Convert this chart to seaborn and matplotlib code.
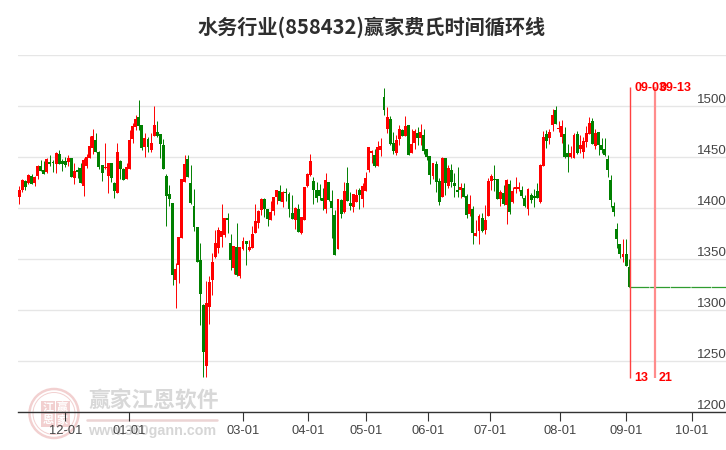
"""水务行业 K-line chart with Fibonacci time-cycle markers."""

import matplotlib
matplotlib.use("Agg")
import matplotlib.pyplot as plt
import numpy as np
import pandas as pd
import seaborn as sns
from matplotlib.patches import Circle, Rectangle

# prices, one entry per trading day
opens = [
    1411, 1418, 1426.5, 1424.5, 1431.7, 1425, 1432, 1441, 1437.3, 1436,
    1445, 1445, 1443.8, 1453.3, 1446, 1446.8, 1445.8, 1449, 1430, 1437.6,
    1439.2, 1422.2, 1441.5, 1449.7, 1458.9, 1466.7, 1455.3, 1442.2, 1439.2, 1432,
    1444.1, 1424.5, 1415.4, 1446.1, 1438.2, 1429.1, 1438.9, 1468.3, 1480, 1489.3,
    1481.4, 1460.5, 1467.7, 1457.2, 1471.3, 1474.6, 1472.6, 1461.8, 1431.4, 1413.7,
    1404.9, 1329.7, 1343.8, 1371.2, 1426.2, 1448.4, 1424.5, 1402, 1381.4, 1349.4,
    1305.2, 1244.7, 1302.6, 1329.1, 1352.6, 1360.8, 1372.2, 1373.8, 1390.2, 1365.7,
    1341.2, 1361.7, 1333.6, 1359.8, 1367.6, 1359.1, 1361.4, 1376.1, 1385.6, 1398.4,
    1408.8, 1399, 1388.9, 1397.4, 1410.8, 1417, 1406.2, 1416, 1413.7, 1395.1,
    1388.9, 1399.3, 1375.2, 1388.9, 1421.9, 1432.7, 1426.8, 1418, 1418, 1410.1,
    1399.7, 1425.5, 1407.2, 1393.1, 1360.1, 1408.2, 1396.1, 1424.5, 1404.9, 1401.6,
    1406.2, 1418, 1409.2, 1417.3, 1437.9, 1453.9, 1452, 1441.5, 1457.6, 1508.9,
    1477.8, 1487.3, 1463.8, 1454.3, 1468, 1476.8, 1471.3, 1481.4, 1454.3, 1464.1,
    1473.6, 1468.7, 1471.9, 1457.9, 1451, 1432, 1443.5, 1426.5, 1411.4, 1449,
    1422.2, 1437.6, 1424.5, 1418, 1418.3, 1419.6, 1412.1, 1394.8, 1399.3, 1373.2,
    1378.1, 1390.2, 1378.7, 1392.8, 1426.5, 1428.4, 1428.4, 1409.2, 1415, 1403.3,
    1423.9, 1406.2, 1418.6, 1418.6, 1417.6, 1409.8, 1399, 1413.4, 1412.1, 1416.7,
    1405.9, 1441.9, 1472.9, 1468.7, 1481.7, 1496.5, 1477.5, 1470.3, 1472.9, 1453.9,
    1450.7, 1449.7, 1472.9, 1458.2, 1455.6, 1465.4, 1472.9, 1485.7, 1461.1, 1474.6,
    1462.1, 1457.9, 1448, 1427.8, 1402.3, 1379.7, 1364.4, 1351.9, 1355.2, 1342.8,
]
closes = [
    1418, 1428, 1421, 1432.4, 1424, 1430.4, 1441, 1437, 1434, 1448.4,
    1443, 1444, 1454, 1443.8, 1443.8, 1442.8, 1449, 1431, 1436.3, 1435.3,
    1424.8, 1447.4, 1450, 1461.1, 1471, 1455.6, 1440.9, 1435, 1440.2, 1444.1,
    1430, 1417.3, 1454.9, 1438.9, 1428.1, 1440.2, 1466.7, 1480.4, 1487.3, 1480.8,
    1459.5, 1468.7, 1460.5, 1463.8, 1481.4, 1471.3, 1463.4, 1438.9, 1412.4, 1409.5,
    1334, 1340.2, 1371.6, 1428.4, 1443.2, 1431, 1404.9, 1382, 1347, 1315.7,
    1258.5, 1306.9, 1327.5, 1347, 1365.7, 1378.7, 1378.1, 1390.2, 1388.6, 1348.7,
    1362.7, 1334, 1362.4, 1367.6, 1364.4, 1361.7, 1374.8, 1387.2, 1397.4, 1408.8,
    1399, 1389.9, 1396.4, 1410.8, 1417.6, 1407.5, 1416, 1415.4, 1399.7, 1389.5,
    1400, 1376.8, 1391.2, 1420.9, 1433.7, 1446.1, 1418, 1410.5, 1412.1, 1407.5,
    1427.5, 1408.2, 1400.3, 1354.5, 1408.8, 1394.8, 1417, 1407.5, 1402.3, 1413.7,
    1412.8, 1412.8, 1421.6, 1429.4, 1459.8, 1455.9, 1441.5, 1459.8, 1460.8, 1496.5,
    1489.6, 1463.1, 1456.2, 1466.7, 1477.5, 1471.3, 1480.8, 1452.6, 1463.1, 1475.5,
    1469, 1474.9, 1456.6, 1450.4, 1432.7, 1444.1, 1426.2, 1406.2, 1449.4, 1425.2,
    1439.2, 1426.2, 1422.2, 1416, 1420.6, 1411.4, 1393.8, 1403.9, 1375.2, 1375.5,
    1392.5, 1377.8, 1388.6, 1426.8, 1431.7, 1427.8, 1409.5, 1415.7, 1403.9, 1427.8,
    1396.1, 1417.3, 1420.6, 1420.6, 1412.1, 1402.3, 1419.3, 1408.5, 1409.8, 1410.5,
    1442.5, 1469.6, 1466.4, 1474.6, 1491.6, 1482.7, 1478.1, 1481.1, 1450, 1450.7,
    1453.9, 1471.9, 1453.9, 1461.8, 1465.7, 1473.6, 1483.7, 1463.1, 1474.2, 1462.4,
    1457.6, 1452, 1437.9, 1408.5, 1396.7, 1369.6, 1354.9, 1354.9, 1343.7, 1323.1,
]
highs = [
    1422, 1429, 1428, 1434, 1434, 1431.7, 1442, 1447, 1446.4, 1449.4,
    1452.3, 1447.4, 1455.3, 1457, 1448.4, 1450, 1452.3, 1449.7, 1444, 1440.2,
    1444, 1449, 1453.3, 1471, 1477.8, 1473.9, 1456, 1442.5, 1464, 1444.5,
    1444.5, 1425.8, 1464, 1447.4, 1439.2, 1444.5, 1476.8, 1484, 1491.6, 1506.3,
    1481.7, 1473.6, 1470, 1473.6, 1500.4, 1485.7, 1472.9, 1468, 1433.7, 1422.6,
    1405.5, 1346.1, 1372.2, 1428.4, 1452.3, 1452.3, 1442.5, 1418.6, 1381.4, 1365.7,
    1306.2, 1328.1, 1333.7, 1356.2, 1378.7, 1382, 1403.9, 1390.2, 1395.1, 1374.8,
    1363, 1385.3, 1362.4, 1371.5, 1368.3, 1369, 1382.7, 1404.2, 1398.4, 1410.1,
    1409.8, 1399.3, 1407.5, 1411.4, 1418, 1422.9, 1416.7, 1420.3, 1416, 1413.1,
    1401.3, 1403.9, 1391.8, 1421.2, 1434.6, 1453.3, 1430.4, 1426.2, 1423.9, 1419.9,
    1434.6, 1426.2, 1418, 1398.4, 1409.1, 1408.8, 1425.8, 1440.5, 1416.3, 1414,
    1419, 1419.6, 1424.8, 1435.6, 1460.5, 1457.2, 1458.5, 1465.7, 1468.7, 1518,
    1499.4, 1490.6, 1474.9, 1471.9, 1481.7, 1477.8, 1490.6, 1481.7, 1477.8, 1477.8,
    1479.8, 1482.7, 1477.5, 1458.2, 1451.3, 1444.5, 1446.4, 1429.4, 1450, 1449.4,
    1442.5, 1443.5, 1434.6, 1440.5, 1424.8, 1424.8, 1414, 1413.1, 1402.3, 1388.6,
    1394.4, 1395.1, 1403.3, 1429.4, 1433.7, 1442.5, 1429.1, 1418, 1422.9, 1428.8,
    1427.8, 1421.2, 1430.7, 1425.5, 1421.9, 1413.1, 1420.3, 1414.7, 1418.6, 1424.5,
    1443.2, 1475.9, 1476.8, 1477.5, 1497.4, 1500.4, 1486, 1486.7, 1480.1, 1463.1,
    1461.1, 1474.2, 1475.9, 1471.9, 1470.3, 1480.8, 1489.9, 1488.9, 1477.5, 1474.6,
    1468.7, 1468.7, 1452.3, 1432.7, 1406.5, 1385.3, 1365, 1369.9, 1369.9, 1350.3,
]
lows = [
    1404, 1416, 1418, 1424, 1423.5, 1422, 1429, 1436.6, 1433.7, 1434.3,
    1441, 1435.6, 1435, 1443.5, 1436.6, 1440.2, 1441.5, 1430.4, 1424, 1430,
    1424.5, 1412, 1439, 1449.4, 1453.3, 1455, 1438.6, 1426.8, 1438.6, 1415,
    1425.8, 1410.1, 1415, 1428.8, 1427.8, 1428.4, 1438.6, 1464, 1476.8, 1476.8,
    1457.2, 1450.4, 1455.3, 1455.3, 1471, 1470, 1449.4, 1438.6, 1383, 1402.3,
    1324.8, 1302.3, 1327.1, 1371, 1425.8, 1430.4, 1404.2, 1378.1, 1346.8, 1285.6,
    1233.9, 1233.9, 1286.6, 1314.4, 1350.7, 1355.9, 1362.4, 1372.2, 1375.5, 1338.9,
    1335.6, 1333.7, 1331.6, 1359.1, 1344.4, 1358.5, 1361.1, 1375.5, 1380.7, 1393.4,
    1391.8, 1382.7, 1388.6, 1393.4, 1404.2, 1407.2, 1401.6, 1407.5, 1391.5, 1389.2,
    1379.7, 1376.4, 1374.8, 1388.6, 1420.9, 1432, 1404.2, 1406.5, 1408.2, 1398.4,
    1395.4, 1407.5, 1370.9, 1354.2, 1359.8, 1390.5, 1395.4, 1406.9, 1398.4, 1396.4,
    1405.9, 1399.3, 1401.3, 1417, 1435.3, 1444.5, 1440.9, 1441.2, 1451.3, 1491.6,
    1473.9, 1462.4, 1453.3, 1452.3, 1462.1, 1471, 1471, 1452.3, 1454, 1458.2,
    1462.1, 1462.4, 1453.3, 1447.4, 1423.9, 1428.8, 1416.3, 1403.3, 1411.1, 1413.1,
    1419.9, 1420.6, 1411.4, 1410.8, 1410.1, 1411.1, 1390.5, 1392.8, 1365, 1372.9,
    1365, 1376.8, 1375.1, 1392.5, 1418, 1417.3, 1408.8, 1402.3, 1403.3, 1384.6,
    1394.4, 1404.9, 1414.7, 1417.3, 1409.8, 1401, 1393.4, 1404.9, 1401, 1409.8,
    1405.6, 1441.5, 1459.5, 1463.1, 1475.9, 1482.4, 1475.2, 1463.8, 1449.7, 1436,
    1449, 1449.4, 1453.3, 1453.9, 1449.7, 1460.5, 1472.6, 1462.8, 1458.2, 1452.3,
    1453.9, 1451.3, 1431, 1401.6, 1392.8, 1360.8, 1351, 1347.7, 1343.4, 1322.5,
]

y_ticks = [1200, 1250, 1300, 1350, 1400, 1450, 1500, 1550]
y_tick_labels = ["1200", "1250", "1300", "1350", "1400", "1450", "1500", ""]
x_tick_days = [15, 35.9, 73.1, 94.3, 113.2, 133.5, 153.5, 176.4, 197.9, 219.4]
x_tick_labels = ["12-01", "01-01", "03-01", "04-01", "05-01",
                 "06-01", "07-01", "08-01", "09-01", "10-01"]

flat_price = 1323
flat_days = [199, 230.6]

cycle_days = [199.3, 207.3]
cycle_dates = ["09-03", "09-13"]
cycle_counts = ["13", "21"]
cycle_top = 1519
cycle_bottom = 1233.5

RED = "#ff0000"
GREEN = "#008000"

sns.set_theme(style="white")
plt.rcParams["font.family"] = ["Liberation Sans", "Noto Sans CJK SC", "DejaVu Sans"]

fig = plt.figure(figsize=(7.26, 4.5), dpi=100, facecolor="white")

# watermark sits underneath everything, drawn in pixel coordinates
bg = fig.add_axes([0, 0, 1, 1])
bg.set_xlim(0, 726)
bg.set_ylim(450, 0)
bg.axis("off")
PINK = "#f2d0d0"
bg.add_patch(Circle((54, 413.5), 24.5, fill=False, ec=PINK, lw=1.8))
bg.add_patch(Circle((54, 413.5), 21, fill=False, ec=PINK, lw=0.7))
for cx, cy, ch in [(48, 407.5, "江"), (48, 420.5, "恩"), (62.5, 407.5, "赢"), (62.5, 420.5, "家")]:
    bg.add_patch(Rectangle((cx - 7, cy - 6.2), 14, 12.4, fc=PINK, ec="none"))
    bg.text(cx, cy, ch, color="white", fontsize=8, fontweight="bold", ha="center", va="center")
bg.text(88, 402, "赢家江恩软件", color="#d8d8d8", fontsize=15.7, ha="left", va="center", fontweight="bold")
bg.plot([87, 217], [419.5, 419.5], color="#ecd4d4", lw=1.8)
bg.text(88, 431, "www.360gann.com", color="#d6d6d6", fontsize=10.3, fontweight="bold", ha="left", va="center")

ax = fig.add_axes([18 / 726, (450 - 412) / 450, 708 / 726, (412 - 55.4) / 450])
ax.patch.set_alpha(0)

df = pd.DataFrame({"open": opens, "high": highs, "low": lows, "close": closes})
df["day"] = np.arange(len(df))
df["rising"] = df["close"] >= df["open"]
df["body"] = (df["close"] - df["open"]).abs().clip(lower=1.0)
df["base"] = df[["open", "close"]].min(axis=1)

for rising, color in [(True, RED), (False, GREEN)]:
    part = df[df["rising"] == rising]
    ax.vlines(part["day"], part["low"], part["high"], color=color, lw=0.7, zorder=3)
    sns.barplot(data=part, x="day", y="body", bottom=part["base"].values, native_scale=True,
                color=color, saturation=1, width=0.96, errorbar=None, linewidth=0, ax=ax, zorder=4)

ax.plot(flat_days, [flat_price, flat_price], color="#2f9c2f", lw=0.9, dashes=(16, 0.5), zorder=3)

line_styles = [("#ff4040", 1.0), ("#ff8c8c", 1.6)]
for day, date, count, (col, lw) in zip(cycle_days, cycle_dates, cycle_counts, line_styles):
    ax.vlines(day, cycle_bottom, cycle_top, color=col, lw=lw, zorder=5)
    ax.annotate(date, (day, 1518), xytext=(4.5, 0), textcoords="offset pixels", color=RED,
                fontsize=9, fontweight="bold", va="center", ha="left", zorder=6)
    ax.annotate(count, (day, 1233.5), xytext=(4.5, 0), textcoords="offset pixels", color=RED,
                fontsize=9, fontweight="bold", va="center", ha="left", zorder=6)

ax.set_xlim(-0.42, 230.6)
ax.set_ylim(1200, 1550)
ax.set_xlabel("")
ax.set_ylabel("")

ax.set_yticks(y_ticks)
ax.set_yticklabels(y_tick_labels)
ax.yaxis.tick_right()
ax.tick_params(axis="y", length=0, pad=-20.9, labelsize=9.6, labelcolor="#444444")
plt.setp(ax.get_yticklabels(), va="bottom")
ax.set_xticks(x_tick_days)
ax.set_xticklabels(x_tick_labels)
ax.tick_params(axis="x", length=6.5, width=0.8, color="#333333", pad=3, labelsize=9.3,
               labelcolor="#444444", bottom=True)
ax.grid(axis="y", color="#e6e6e6", lw=1.0, zorder=0)
ax.set_axisbelow(True)

sns.despine(ax=ax, left=True, right=True, top=True)
ax.spines["bottom"].set_color("#333333")
ax.spines["bottom"].set_linewidth(1.0)

fig.text(371.5 / 726, 1 - 27 / 450, "水务行业(858432)赢家费氏时间循环线", color="#2e2e2e",
         fontsize=14.5, fontweight="bold", ha="center", va="center",
         family=["Noto Sans CJK SC", "DejaVu Sans"])

fig.savefig("out.png", dpi=100)
plt.close(fig)
